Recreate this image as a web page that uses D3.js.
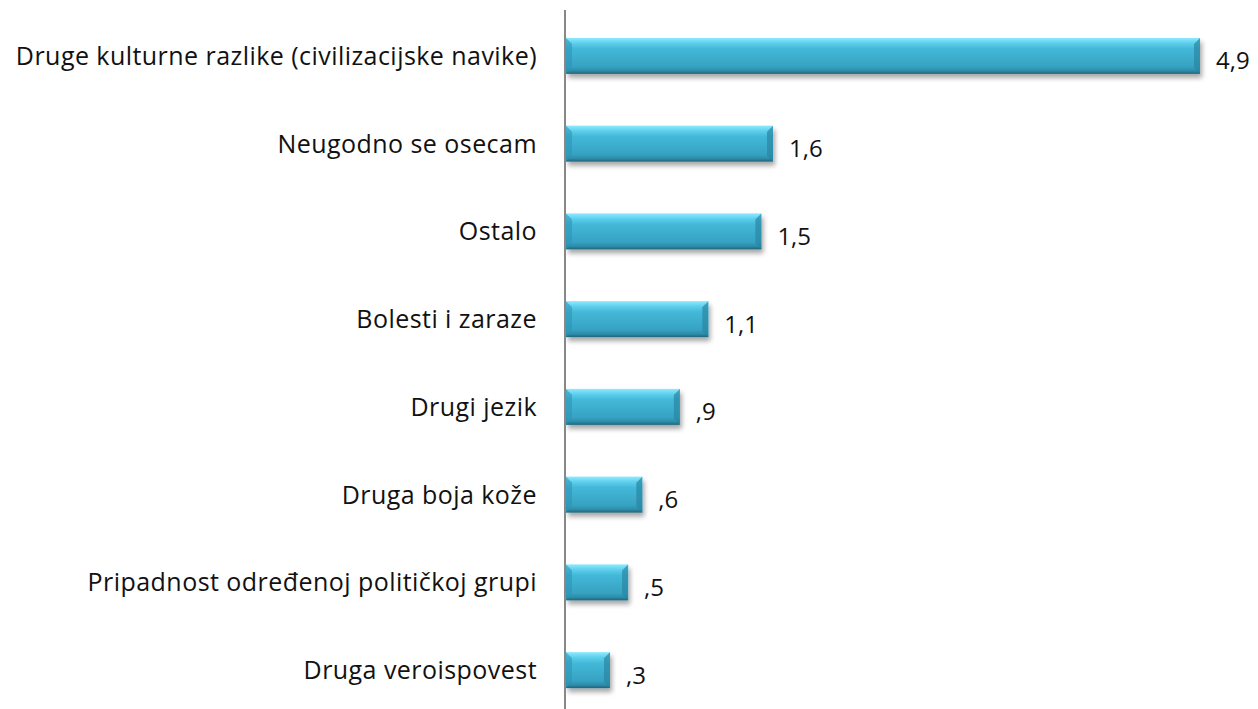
<!DOCTYPE html>
<html><head><meta charset="utf-8">
<script src="https://cdn.jsdelivr.net/npm/d3@7"></script>
<style>body{margin:0;background:#fff;} text{font-family:"Open Sans",sans-serif;fill:#111;}</style>
</head><body>
<svg id="c" width="1258" height="709"></svg>
<script>
const categories = ["Druge kulturne razlike (civilizacijske navike)","Neugodno se osecam","Ostalo","Bolesti i zaraze","Drugi jezik","Druga boja kože","Pripadnost određenoj političkoj grupi","Druga veroispovest"];
const values = [4.9,1.6,1.51,1.1,0.88,0.59,0.48,0.34];
const valueLabels = ["4,9","1,6","1,5","1,1",",9",",6",",5",",3"];

const svg = d3.select("#c");
const x0 = 566;
const x = d3.scaleLinear().domain([0,4.9]).range([x0,1200]);
const y = d3.scaleBand().domain(categories).range([12,714]).paddingInner(0.59).paddingOuter(0.295);

const defs = svg.append("defs");
const g = defs.append("linearGradient").attr("id","bar").attr("x1",0).attr("y1",0).attr("x2",0).attr("y2",1);
g.append("stop").attr("offset","0%").attr("stop-color","#8eeaff");
g.append("stop").attr("offset","14%").attr("stop-color","#5fd0ee");
g.append("stop").attr("offset","30%").attr("stop-color","#44b8d8");
g.append("stop").attr("offset","80%").attr("stop-color","#36a2c2");
g.append("stop").attr("offset","92%").attr("stop-color","#2d8aa6");
g.append("stop").attr("offset","100%").attr("stop-color","#1f6478");
const f = defs.append("filter").attr("id","sh").attr("x","-10%").attr("y","-30%").attr("width","130%").attr("height","180%");
f.append("feGaussianBlur").attr("in","SourceAlpha").attr("stdDeviation",2.5);
f.append("feOffset").attr("dx",2).attr("dy",4).attr("result","ob");
f.append("feComponentTransfer").append("feFuncA").attr("type","linear").attr("slope",0.35);
const m = f.append("feMerge"); m.append("feMergeNode"); m.append("feMergeNode").attr("in","SourceGraphic");

const bars = svg.append("g").selectAll("g").data(categories).join("g");
bars.append("rect").attr("x",x0).attr("y",d=>y(d)).attr("height",y.bandwidth())
  .attr("width",(d,i)=>x(values[i])-x0).attr("fill","url(#bar)").attr("filter","url(#sh)");
bars.append("path").attr("d",(d,i)=>{const t=y(d),h=y.bandwidth(),b=6;
  return `M${x0},${t}L${x0+b},${t+b}L${x0+b},${t+h-b}L${x0},${t+h}Z`;}).attr("fill","#2f95b5").attr("opacity",0.6);
bars.append("path").attr("d",(d,i)=>{const t=y(d),h=y.bandwidth(),r=x(values[i]),b=6;
  return `M${r},${t}L${r-b},${t+b}L${r-b},${t+h-b}L${r},${t+h}Z`;}).attr("fill","#2a86a3").attr("opacity",0.7);

svg.append("line").attr("x1",x0-1).attr("x2",x0-1).attr("y1",10).attr("y2",709).attr("stroke","#888").attr("stroke-width",2);

svg.append("g").selectAll("text").data(categories).join("text")
  .attr("x",537).attr("y",d=>y(d)+y.bandwidth()/2).attr("dy","0.36em").attr("text-anchor","end")
  .attr("font-size",25).attr("letter-spacing","0.45px").text(d=>d);
svg.append("g").selectAll("text").data(categories).join("text")
  .attr("x",(d,i)=>x(values[i])+16).attr("y",d=>y(d)+y.bandwidth()/2+5).attr("dy","0.35em")
  .attr("font-size",24).text((d,i)=>valueLabels[i]);
</script>
</body></html>
